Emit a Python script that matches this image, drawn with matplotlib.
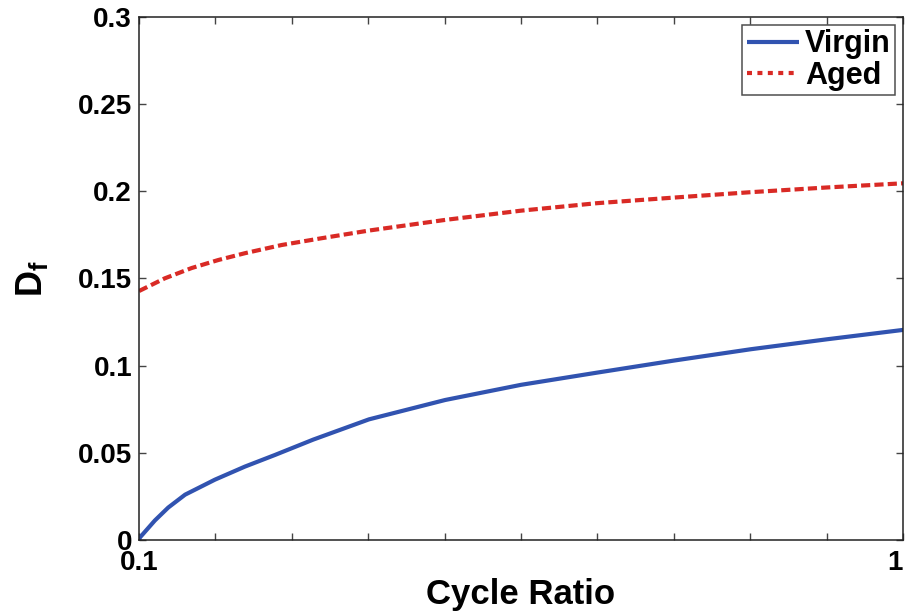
import matplotlib
matplotlib.use("Agg")
import matplotlib.pyplot as plt
from matplotlib.lines import Line2D
from matplotlib.ticker import FixedLocator, NullFormatter, FixedFormatter

plt.rcParams['font.family'] = ['Liberation Sans', 'DejaVu Sans']
plt.rcParams['font.weight'] = 'bold'
plt.rcParams['mathtext.fontset'] = 'custom'
plt.rcParams['mathtext.rm'] = 'Liberation Sans:bold'
plt.rcParams['mathtext.bf'] = 'Liberation Sans:bold'
plt.rcParams['mathtext.it'] = 'Liberation Sans:bold'

# Damage factor D_f against cycle ratio for the two material states
virgin_ratio = [0.1000, 0.1003, 0.1049, 0.1092, 0.1149, 0.1257, 0.1376,
                0.1507, 0.1691, 0.2000, 0.2516, 0.3162, 0.3977, 0.5011,
                0.6316, 0.7945, 1.0000]
virgin_df = [0.0000, 0.0015, 0.0112, 0.0186, 0.0260, 0.0346, 0.0421,
             0.0488, 0.0576, 0.0692, 0.0803, 0.0890, 0.0960, 0.1029,
             0.1094, 0.1151, 0.1205]

aged_ratio = [0.1000, 0.1081, 0.1172, 0.1270, 0.1376, 0.1537, 0.1734,
              0.2000, 0.2516, 0.3162, 0.3977, 0.5011, 0.6316, 0.7945,
              1.0000]
aged_df = [0.1428, 0.1501, 0.1560, 0.1606, 0.1645, 0.1692, 0.1731,
           0.1775, 0.1836, 0.1889, 0.1932, 0.1964, 0.1995, 0.2022,
           0.2046]

series_names = ['Virgin', 'Aged']
series_colors = ['#3153b0', '#d92a25']

y_ticks = [0, 0.05, 0.1, 0.15, 0.2, 0.25, 0.3]
y_tick_labels = ['0', '0.05', '0.1', '0.15', '0.2', '0.25', '0.3']

fig = plt.figure(figsize=(9.08, 6.13), dpi=100)
ax = fig.add_axes([0.1531, 0.1191, 0.8414, 0.8532])

ax.plot(virgin_ratio, virgin_df, color=series_colors[0], lw=3.0,
        solid_capstyle='round', solid_joinstyle='round')
ax.plot(aged_ratio, aged_df, color=series_colors[1], lw=3.0,
        dashes=(2.2, 1.0), dash_capstyle='butt', dash_joinstyle='round')

ax.set_xscale('log')
ax.set_xlim(0.1, 1.0)
ax.set_ylim(0, 0.3)

ax.xaxis.set_major_locator(FixedLocator([0.1, 1.0]))
ax.xaxis.set_major_formatter(FixedFormatter(['0.1', '1']))
ax.xaxis.set_minor_locator(FixedLocator([10 ** (-1 + k / 10) for k in range(1, 10)]))
ax.xaxis.set_minor_formatter(NullFormatter())
ax.set_yticks(y_ticks)
ax.set_yticklabels(y_tick_labels)

ax.tick_params(which='both', direction='in', top=True, right=True,
               length=5, width=1.0, color='#444444', labelsize=20)
ax.tick_params(axis='y', pad=5)
ax.tick_params(axis='x', pad=7)
for lab in ax.get_xticklabels() + ax.get_yticklabels():
    lab.set_fontweight('bold')
# keep the last x label inside the figure edge
ax.xaxis.get_major_ticks()[-1].label1.set_horizontalalignment('right')
for s in ax.spines.values():
    s.set_linewidth(1.1)
    s.set_color('#222222')

ax.set_xlabel('Cycle Ratio', fontsize=25, fontweight='bold')
ax.xaxis.set_label_coords(0.5, -0.072)
ax.set_ylabel(r'$\mathbf{D_f}$', fontsize=26, labelpad=20)

# legend keys drawn as short line samples in each series' style
handles = [
    Line2D([], [], color=series_colors[0], lw=3.0, solid_capstyle='butt'),
    Line2D([], [], color=series_colors[1], lw=3.0, dashes=(1.2, 1.3),
           dash_capstyle='butt'),
]
leg = ax.legend(handles, series_names, loc='upper right', fontsize=22,
                frameon=True, fancybox=False, edgecolor='#222222',
                handlelength=1.7, handletextpad=0.2, borderpad=0.15,
                labelspacing=0.05, borderaxespad=0.25)
leg.get_frame().set_linewidth(1.1)
for t in leg.get_texts():
    t.set_fontweight('bold')

fig.savefig('out.png', dpi=100)
